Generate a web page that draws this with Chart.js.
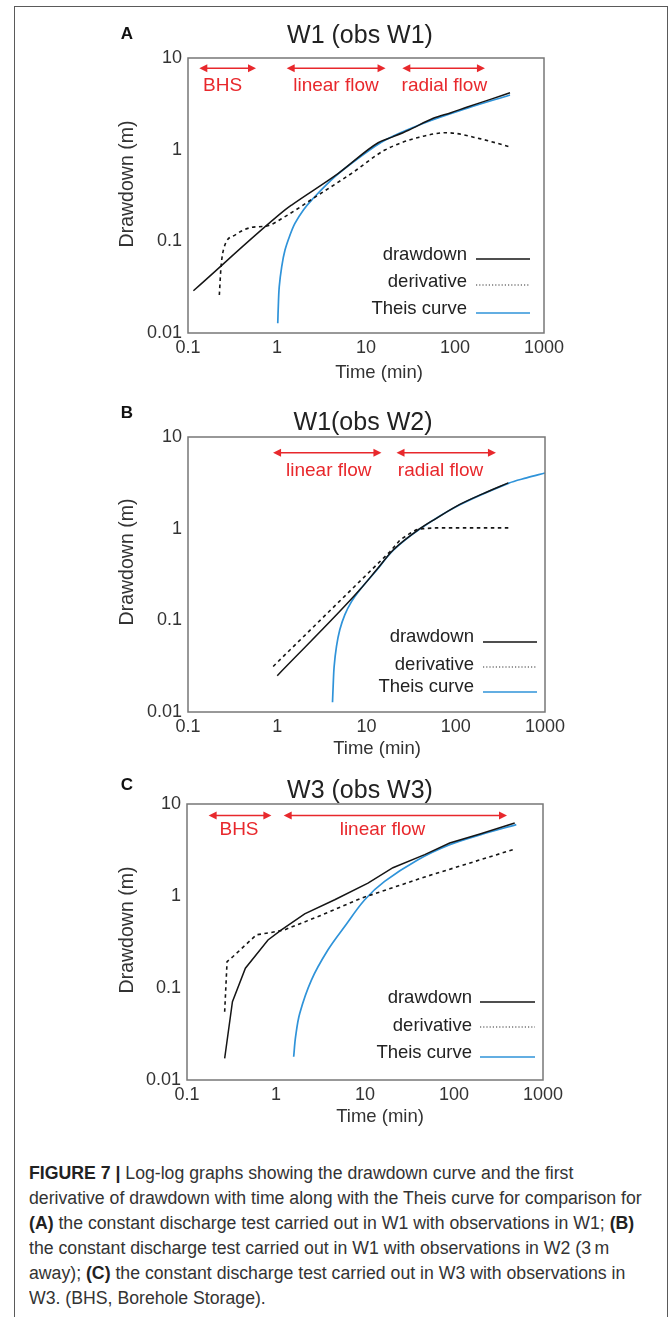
<!DOCTYPE html>
<html><head><meta charset="utf-8">
<script src="https://cdn.jsdelivr.net/npm/chart.js@4.4.1/dist/chart.umd.min.js"></script>
<style>
html,body{margin:0;padding:0;background:#fff;}
body{width:669px;height:1317px;position:relative;overflow:hidden;font-family:"Liberation Sans",Arial,sans-serif;}
#frame{position:absolute;left:14px;top:6px;width:654px;height:1330px;border:1px solid #5a5a5a;border-bottom:none;box-sizing:border-box;}
canvas{position:absolute;left:0;}
#caption{position:absolute;left:29px;top:1161px;font-size:18px;line-height:25px;color:#333;transform:scaleX(0.982);transform-origin:0 0;white-space:nowrap;}
#caption b{color:#222;}
</style></head><body>
<div id="frame"></div>
<canvas id="cA" width="669" height="390" style="top:0px"></canvas>
<canvas id="cB" width="669" height="370" style="top:390px"></canvas>
<canvas id="cC" width="669" height="380" style="top:760px"></canvas>
<div id="caption"><b>FIGURE 7 |</b> Log-log graphs showing the drawdown curve and the first<br>derivative of drawdown with time along with the Theis curve for comparison for<br><b>(A)</b> the constant discharge test carried out in W1 with observations in W1; <b>(B)</b><br>the constant discharge test carried out in W1 with observations in W2 (3&#8201;m<br>away); <b>(C)</b> the constant discharge test carried out in W3 with observations in<br>W3. (BHS, Borehole Storage).</div>
<script>
// ---------- data ----------
const X_TICKS = [0.1, 1, 10, 100, 1000];
const X_TICK_LABELS = ['0.1', '1', '10', '100', '1000'];
const Y_TICKS = [0.01, 0.1, 1, 10];
const Y_TICK_LABELS = ['0.01', '0.1', '1', '10'];
const SERIES = ['drawdown', 'derivative', 'Theis curve'];
const X_TITLE = 'Time (min)';
const Y_TITLE = 'Drawdown (m)';
const PANEL_LETTERS = ['A', 'B', 'C'];
const PANEL_TITLES = ['W1 (obs W1)', 'W1(obs W2)', 'W3 (obs W3)'];

// Panel A
const A_drawdown_t = [0.115, 1.23, 1.46, 4.89, 13.7, 20, 30, 57, 90, 135, 250, 415];
const A_drawdown_s = [0.0289, 0.22, 0.249, 0.552, 1.19, 1.38, 1.63, 2.2, 2.53, 2.9, 3.54, 4.18];
const A_derivative_t = [0.225, 0.235, 0.256, 0.337, 0.52, 0.766, 1.23, 2.91, 6.9, 16.3, 38.7, 81, 189, 430];
const A_derivative_s = [0.026, 0.0528, 0.0873, 0.117, 0.142, 0.147, 0.186, 0.32, 0.552, 0.99, 1.36, 1.53, 1.32, 1.06];
const A_theis_t = [1.02, 1.034, 1.06, 1.129, 1.23, 1.4, 1.59, 1.98, 2.45, 4.48, 8.2, 16.3, 46, 135, 415];
const A_theis_s = [0.0128, 0.0194, 0.032, 0.0528, 0.0803, 0.117, 0.157, 0.22, 0.282, 0.507, 0.805, 1.27, 1.97, 2.82, 3.95];
const A_phase_labels = ['BHS', 'linear flow', 'radial flow'];
const A_phase_start = [0.134, 1.285, 25.6];
const A_phase_end = [0.581, 16.6, 217];
const A_phase_label_t = [0.245, 4.6, 75.9];

// Panel B
const B_drawdown_t = [1.0, 8.4, 12.9, 19.9, 39.6, 60, 111, 200, 388];
const B_drawdown_s = [0.0249, 0.215, 0.354, 0.585, 1.0, 1.29, 1.84, 2.4, 3.16];
const B_derivative_t = [0.9, 18.3, 23.7, 30.6, 36, 43, 60, 388];
const B_derivative_s = [0.0314, 0.56, 0.751, 0.887, 0.97, 1.0, 1.02, 1.02];
const B_theis_t = [4.16, 4.23, 4.34, 4.61, 5.02, 5.71, 6.79, 8.41, 12.9, 19.9, 39.6, 111, 388, 622, 1000];
const B_theis_s = [0.0128, 0.0191, 0.0314, 0.0519, 0.0788, 0.1147, 0.16, 0.215, 0.35, 0.58, 0.99, 1.82, 3.12, 3.58, 4.05];
const B_phase_labels = ['linear flow', 'radial flow'];
const B_phase_start = [0.897, 21.7];
const B_phase_end = [14.7, 282];
const B_phase_label_t = [3.78, 67.6];

// Panel C
const C_drawdown_t = [0.265, 0.324, 0.453, 0.813, 1.15, 2.1, 4.57, 10.8, 20.6, 46.9, 89.5, 200, 481];
const C_drawdown_s = [0.0172, 0.0711, 0.164, 0.333, 0.429, 0.64, 0.91, 1.38, 2.03, 2.82, 3.77, 4.75, 6.21];
const C_derivative_t = [0.265, 0.282, 0.329, 0.603, 0.887, 1.25, 2.97, 9.12, 46.9, 460];
const C_derivative_s = [0.0553, 0.194, 0.22, 0.379, 0.401, 0.429, 0.598, 0.948, 1.61, 3.19];
const C_theis_t = [1.58, 1.66, 1.85, 2.5, 3.84, 5.91, 9.93, 16.6, 39.4, 89.5, 200, 501];
const C_theis_s = [0.0179, 0.0296, 0.0532, 0.122, 0.26, 0.466, 0.91, 1.44, 2.48, 3.61, 4.65, 5.96];
const C_phase_labels = ['BHS', 'linear flow'];
const C_phase_start = [0.175, 1.22];
const C_phase_end = [0.887, 394];
const C_phase_label_t = [0.384, 15.7];

// ---------- drawing ----------
const FONT = '"Liberation Sans", Arial, Helvetica, sans-serif';
const RED = '#e8282c';
const BLUE = '#2f93d9';
const BLACK = '#151515';
const Y_AXIS_W = 60, X_AXIS_H = 40;

function pts(t, s) { return t.map((v, i) => ({x: v, y: s[i]})); }

function makeDeco(cfg, top) {
  return {
    id: 'deco',
    afterDraw(chart) {
      const ctx = chart.ctx, ca = chart.chartArea, xs = chart.scales.x, ys = chart.scales.y;
      ctx.save();
      ctx.strokeStyle = '#777'; ctx.lineWidth = 1.5; ctx.setLineDash([]);
      ctx.strokeRect(ca.left, ca.top, ca.right - ca.left, ca.bottom - ca.top);
      ctx.textAlign = 'center'; ctx.textBaseline = 'middle';
      ctx.fillStyle = '#111';
      ctx.font = 'bold 17px ' + FONT;
      ctx.fillText(cfg.letter, cfg.letterPos[0], cfg.letterPos[1] - top);
      ctx.fillStyle = '#222';
      ctx.font = '25px ' + FONT;
      ctx.fillText(cfg.title, cfg.titlePos[0], cfg.titlePos[1] - top);
      ctx.fillStyle = '#333';
      ctx.font = '18.5px ' + FONT;
      ctx.fillText(X_TITLE, cfg.xTitlePos[0], cfg.xTitlePos[1] - top);
      ctx.save();
      ctx.font = '19.5px ' + FONT;
      ctx.translate(cfg.yTitlePos[0], cfg.yTitlePos[1] - top);
      ctx.rotate(-Math.PI / 2);
      ctx.fillText(Y_TITLE, 0, 0);
      ctx.restore();
      // legend
      const styles = [
        {c: BLACK, w: 1.3, d: []},
        {c: '#333', w: 1.2, d: [1.2, 2]},
        {c: BLUE, w: 1.6, d: []}
      ];
      ctx.textAlign = 'right';
      ctx.font = '18.5px ' + FONT;
      for (let i = 0; i < SERIES.length; i++) {
        ctx.fillStyle = '#222';
        ctx.fillText(SERIES[i], cfg.legTextRight, cfg.legTextY[i] - top);
        ctx.beginPath();
        ctx.strokeStyle = styles[i].c; ctx.lineWidth = styles[i].w; ctx.setLineDash(styles[i].d);
        ctx.moveTo(cfg.legLineX[0], cfg.legLineY[i] - top);
        ctx.lineTo(cfg.legLineX[1], cfg.legLineY[i] - top);
        ctx.stroke();
      }
      ctx.setLineDash([]);
      // phase arrows
      ctx.fillStyle = RED; ctx.strokeStyle = RED; ctx.lineWidth = 1.5;
      ctx.textAlign = 'center';
      ctx.font = '19px ' + FONT;
      const ay = ys.getPixelForValue(cfg.arrowLevel);
      const ly = ys.getPixelForValue(cfg.labelLevel);
      for (let i = 0; i < cfg.labels.length; i++) {
        const x1 = xs.getPixelForValue(cfg.start[i]);
        const x2 = xs.getPixelForValue(cfg.end[i]);
        const h = 8, hw = 4;
        ctx.beginPath();
        ctx.moveTo(x1 + h - 1, ay); ctx.lineTo(x2 - h + 1, ay); ctx.stroke();
        ctx.beginPath();
        ctx.moveTo(x1, ay); ctx.lineTo(x1 + h, ay - hw); ctx.lineTo(x1 + h, ay + hw); ctx.closePath(); ctx.fill();
        ctx.beginPath();
        ctx.moveTo(x2, ay); ctx.lineTo(x2 - h, ay - hw); ctx.lineTo(x2 - h, ay + hw); ctx.closePath(); ctx.fill();
        ctx.fillText(cfg.labels[i], xs.getPixelForValue(cfg.labelT[i]), ly);
      }
      ctx.restore();
    }
  };
}

function makeChart(id, top, height, area, series, cfg, straight) {
  const ds = [
    {label: SERIES[0], data: pts(series[0][0], series[0][1]), borderColor: BLACK, borderWidth: 1.5,
     tension: straight.drawdown ? 0 : 0.4, cubicInterpolationMode: straight.drawdown ? 'default' : 'monotone'},
    {label: SERIES[1], data: pts(series[1][0], series[1][1]), borderColor: BLACK, borderWidth: 1.6, borderDash: [3.5, 3.5],
     tension: straight.derivative ? 0 : 0.4, cubicInterpolationMode: straight.derivative ? 'default' : 'monotone'},
    {label: SERIES[2], data: pts(series[2][0], series[2][1]), borderColor: BLUE, borderWidth: 1.7,
     tension: 0.35, cubicInterpolationMode: 'default'}
  ];
  ds.forEach(d => { d.pointRadius = 0; d.fill = false; });
  const tickFont = {family: FONT, size: 18};
  return new Chart(document.getElementById(id).getContext('2d'), {
    type: 'line',
    data: {datasets: ds},
    options: {
      responsive: false, animation: false, devicePixelRatio: 1,
      layout: {padding: {left: area.left - Y_AXIS_W, right: 669 - area.right, top: area.top - top, bottom: top + height - area.bottom - X_AXIS_H}},
      plugins: {legend: {display: false}, tooltip: {enabled: false}},
      scales: {
        x: {type: 'logarithmic', min: X_TICKS[0], max: X_TICKS[X_TICKS.length - 1],
            afterBuildTicks: s => { s.ticks = X_TICKS.map(v => ({value: v})); },
            afterFit: s => { s.height = X_AXIS_H; },
            grid: {display: false, drawTicks: false}, border: {display: false},
            ticks: {padding: 4, color: '#333', font: tickFont, maxRotation: 0, autoSkip: false,
                    callback: (v, i) => X_TICK_LABELS[i]}},
        y: {type: 'logarithmic', min: Y_TICKS[0], max: Y_TICKS[Y_TICKS.length - 1],
            afterBuildTicks: s => { s.ticks = Y_TICKS.map(v => ({value: v})); },
            afterFit: s => { s.width = Y_AXIS_W; },
            grid: {display: false, drawTicks: false}, border: {display: false},
            ticks: {padding: 6, color: '#333', font: tickFont, autoSkip: false,
                    callback: (v, i) => Y_TICK_LABELS[i]}}
      }
    },
    plugins: [makeDeco(cfg, top)]
  });
}

makeChart('cA', 0, 390, {left: 188, right: 544, top: 58, bottom: 333},
  [[A_drawdown_t, A_drawdown_s], [A_derivative_t, A_derivative_s], [A_theis_t, A_theis_s]],
  {letter: PANEL_LETTERS[0], letterPos: [127, 34], title: PANEL_TITLES[0], titlePos: [360, 36],
   xTitlePos: [379, 373], yTitlePos: [127.5, 184],
   legTextRight: 467, legTextY: [255, 282, 309], legLineX: [476, 530], legLineY: [259, 285, 313],
   labels: A_phase_labels, start: A_phase_start, end: A_phase_end, labelT: A_phase_label_t,
   arrowLevel: 7.72, labelLevel: 4.99},
  {drawdown: false, derivative: false});

makeChart('cB', 390, 370, {left: 188, right: 545, top: 437, bottom: 712},
  [[B_drawdown_t, B_drawdown_s], [B_derivative_t, B_derivative_s], [B_theis_t, B_theis_s]],
  {letter: PANEL_LETTERS[1], letterPos: [127, 413], title: PANEL_TITLES[1], titlePos: [363, 423],
   xTitlePos: [377, 749], yTitlePos: [127.5, 562],
   legTextRight: 474, legTextY: [637, 665, 687], legLineX: [483, 537], legLineY: [642, 667, 692],
   labels: B_phase_labels, start: B_phase_start, end: B_phase_end, labelT: B_phase_label_t,
   arrowLevel: 6.75, labelLevel: 4.33},
  {drawdown: false, derivative: true});

makeChart('cC', 760, 380, {left: 187, right: 543, top: 804, bottom: 1080},
  [[C_drawdown_t, C_drawdown_s], [C_derivative_t, C_derivative_s], [C_theis_t, C_theis_s]],
  {letter: PANEL_LETTERS[2], letterPos: [127, 785], title: PANEL_TITLES[2], titlePos: [360, 791],
   xTitlePos: [380, 1117], yTitlePos: [127.5, 930],
   legTextRight: 472, legTextY: [998, 1026, 1053], legLineX: [480, 535], legLineY: [1002, 1027, 1057],
   labels: C_phase_labels, start: C_phase_start, end: C_phase_end, labelT: C_phase_label_t,
   arrowLevel: 7.51, labelLevel: 5.2},
  {drawdown: true, derivative: true});
</script>
</body></html>
